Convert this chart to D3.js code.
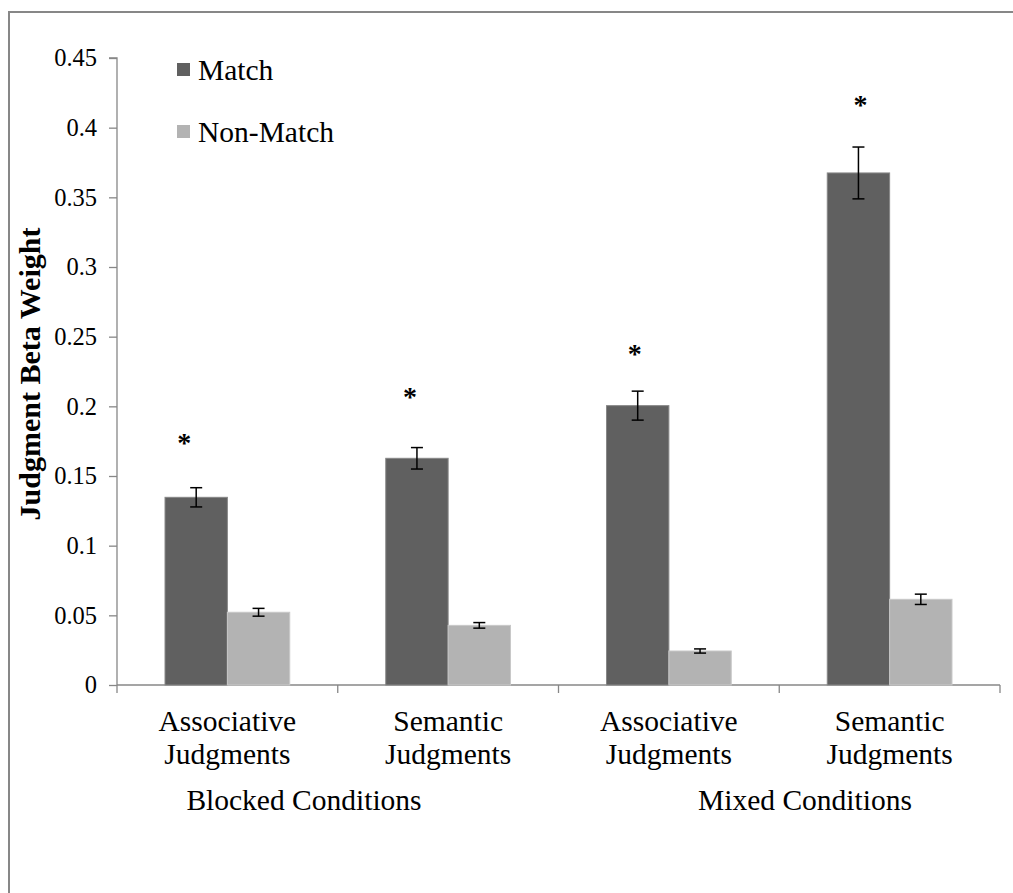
<!DOCTYPE html>
<html>
<head>
<meta charset="utf-8">
<script src="https://cdn.jsdelivr.net/npm/d3@7"></script>
<style>
  html, body { margin: 0; padding: 0; background: #fff; }
  svg { display: block; }
  text { font-family: "Liberation Serif", "Times New Roman", serif; fill: #000; }
</style>
</head>
<body>
<svg id="chart" width="1013" height="893"></svg>
<script>
// ---- data ----
const categories = ["Blocked-Associative", "Blocked-Semantic", "Mixed-Associative", "Mixed-Semantic"];
const categoryLines = [["Associative", "Judgments"], ["Semantic", "Judgments"], ["Associative", "Judgments"], ["Semantic", "Judgments"]];
const conditionGroups = ["Blocked Conditions", "Mixed Conditions"];
const seriesNames = ["Match", "Non-Match"];
const matchValues = [0.1347, 0.1627, 0.2005, 0.3675];
const matchErrors = [0.0069, 0.0077, 0.0104, 0.0186];
const nonMatchValues = [0.0522, 0.0428, 0.0244, 0.0615];
const nonMatchErrors = [0.0028, 0.0020, 0.0015, 0.0037];
const starLevels = [0.178, 0.211, 0.242, 0.4205];
const yTicks = [0, 0.05, 0.1, 0.15, 0.2, 0.25, 0.3, 0.35, 0.4, 0.45];
const yTickLabels = ["0", "0.05", "0.1", "0.15", "0.2", "0.25", "0.3", "0.35", "0.4", "0.45"];
const yTitle = "Judgment Beta Weight";

// ---- layout ----
const svg = d3.select("#chart");
const mLeft = 117, mRight = 1000, mTop = 58, mBottom = 685;
const colors = ["#606060", "#b3b3b3"];
const strokes = ["#878787", "#c8c8c8"];
const starDx = [-12, -7, -3, 2];

// frame
svg.append("rect").attr("x", 9).attr("y", 12).attr("width", 1100).attr("height", 1000)
  .attr("fill", "none").attr("stroke", "#878787").attr("stroke-width", 2);

const y = d3.scaleLinear().domain([0, 0.45]).range([mBottom, mTop]);
const x0 = d3.scaleBand().domain(categories).range([mLeft, mRight]).paddingInner(0.435).paddingOuter(0.2175);
const x1 = d3.scaleBand().domain(seriesNames).range([0, x0.bandwidth()]);
const step = x0.step();

// y axis
const yAxis = d3.axisLeft(y).tickValues(yTicks).tickFormat((d, i) => yTickLabels[i]).tickSize(8).tickPadding(12);
const gy = svg.append("g").attr("transform", `translate(${mLeft},0)`).call(yAxis);
gy.select(".domain").attr("stroke", "#878787").attr("stroke-width", 1.3).attr("d", `M-8,${mTop}H0V${mBottom}`);
gy.selectAll(".tick line").attr("stroke", "#878787").attr("stroke-width", 1.3);
gy.selectAll(".tick text").style("font-family", "Liberation Serif").style("font-size", "24.5px").attr("fill", "#000");

// x axis line + boundary ticks
const xBounds = d3.range(categories.length + 1).map(i => mLeft + i * step);
svg.append("line").attr("x1", mLeft).attr("x2", mRight).attr("y1", mBottom).attr("y2", mBottom)
  .attr("stroke", "#878787").attr("stroke-width", 1.3);
svg.selectAll(".xtick").data(xBounds).enter().append("line")
  .attr("x1", d => d).attr("x2", d => d).attr("y1", mBottom).attr("y2", mBottom + 8)
  .attr("stroke", "#878787").attr("stroke-width", 1.3);

// bars
const rows = categories.map((c, i) => ({
  cat: c,
  vals: [
    { s: seriesNames[0], v: matchValues[i], e: matchErrors[i], k: 0 },
    { s: seriesNames[1], v: nonMatchValues[i], e: nonMatchErrors[i], k: 1 }
  ]
}));
const g = svg.selectAll(".grp").data(rows).enter().append("g")
  .attr("transform", d => `translate(${x0(d.cat)},0)`);
g.selectAll("rect").data(d => d.vals).enter().append("rect")
  .attr("x", d => x1(d.s)).attr("width", x1.bandwidth())
  .attr("y", d => y(d.v)).attr("height", d => y(0) - y(d.v))
  .attr("fill", d => colors[d.k]).attr("stroke", d => strokes[d.k]).attr("stroke-width", 1);

// error bars
const cap = 6;
const eb = g.selectAll(".eb").data(d => d.vals).enter().append("g");
eb.append("line").attr("x1", d => x1(d.s) + x1.bandwidth() / 2).attr("x2", d => x1(d.s) + x1.bandwidth() / 2)
  .attr("y1", d => y(d.v + d.e)).attr("y2", d => y(d.v - d.e)).attr("stroke", "#000").attr("stroke-width", 1.5);
eb.append("line").attr("x1", d => x1(d.s) + x1.bandwidth() / 2 - cap).attr("x2", d => x1(d.s) + x1.bandwidth() / 2 + cap)
  .attr("y1", d => y(d.v + d.e)).attr("y2", d => y(d.v + d.e)).attr("stroke", "#000").attr("stroke-width", 1.5);
eb.append("line").attr("x1", d => x1(d.s) + x1.bandwidth() / 2 - cap).attr("x2", d => x1(d.s) + x1.bandwidth() / 2 + cap)
  .attr("y1", d => y(d.v - d.e)).attr("y2", d => y(d.v - d.e)).attr("stroke", "#000").attr("stroke-width", 1.5);

// asterisks
svg.selectAll(".star").data(starLevels).enter().append("text")
  .attr("x", (d, i) => x0(categories[i]) + x1(seriesNames[0]) + x1.bandwidth() / 2 + starDx[i])
  .attr("y", d => y(d) + 15)
  .attr("text-anchor", "middle").style("font-size", "28px").style("font-weight", "bold").text("*");

// category labels
const cl = svg.selectAll(".cl").data(categories).enter().append("text")
  .attr("text-anchor", "middle").style("font-size", "29.5px")
  .attr("transform", d => `translate(${x0(d) + x0.bandwidth() / 2},0)`);
cl.selectAll("tspan").data((d, i) => categoryLines[i]).enter().append("tspan")
  .attr("x", 0).attr("y", (d, j) => 731 + j * 33).text(d => d);

// condition group labels
svg.selectAll(".cond").data(conditionGroups).enter().append("text")
  .attr("x", (d, i) => [304, 805][i]).attr("y", 810)
  .attr("text-anchor", "middle").style("font-size", "29.5px").text(d => d);

// y title
svg.append("text").attr("transform", "translate(40,374) rotate(-90)")
  .attr("text-anchor", "middle").style("font-size", "30px").style("font-weight", "bold").text(yTitle);

// legend
const lg = svg.selectAll(".lg").data(seriesNames).enter().append("g")
  .attr("transform", (d, i) => `translate(177,${63 + i * 62})`);
lg.append("rect").attr("width", 13).attr("height", 13).attr("fill", (d, i) => colors[i]);
lg.append("text").attr("x", 21).attr("y", 17).style("font-size", "29.5px").text(d => d);
</script>
</body>
</html>
